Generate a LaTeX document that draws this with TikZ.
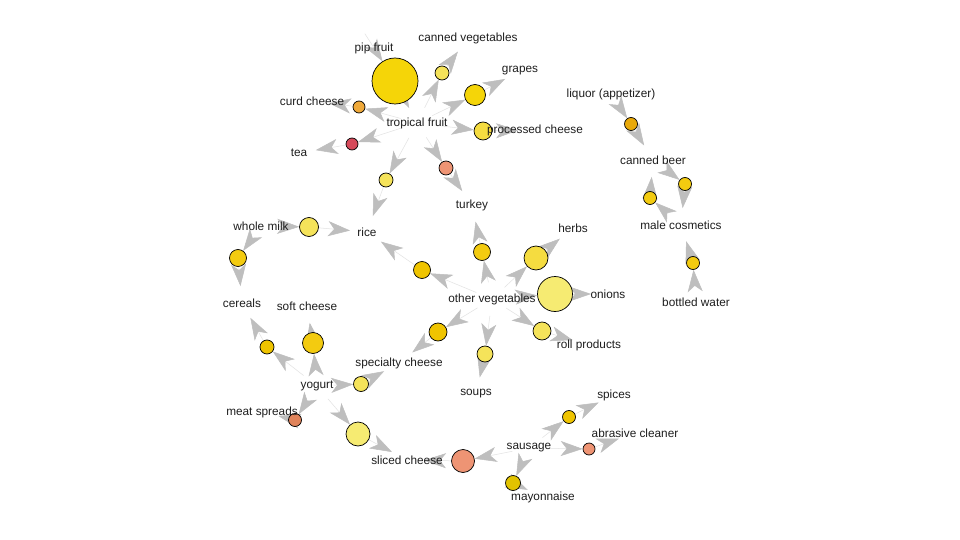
\documentclass[tikz,border=0pt]{standalone}
\usepackage{fontspec}
\setmainfont{Liberation Sans}
\usetikzlibrary{arrows.meta}
\pgfdeclarelayer{edges}
\pgfdeclarelayer{labels}
\pgfsetlayers{edges,main,labels}
\definecolor{edgec}{HTML}{E2E2E2}
\definecolor{tipc}{HTML}{BEBEBE}
\definecolor{labc}{HTML}{1E1E1E}
\definecolor{cGold}{HTML}{F5D508}
\definecolor{cGoldB}{HTML}{F3CB10}
\definecolor{cGoldC}{HTML}{EFC400}
\definecolor{cLight}{HTML}{F5E35A}
\definecolor{cLightB}{HTML}{F6EB72}
\definecolor{cMid}{HTML}{F5DC40}
\definecolor{cOrange}{HTML}{EFA93A}
\definecolor{cOrangeB}{HTML}{E9A90A}
\definecolor{cRed}{HTML}{D64A5A}
\definecolor{cSalmon}{HTML}{EE9474}
\definecolor{cBrown}{HTML}{E0835A}
\definecolor{cMayo}{HTML}{E2C300}
\begin{document}
\begin{tikzpicture}[x=1pt,y=-1pt,
  item/.style={font=\fontsize{11.8}{13}\selectfont, text=labc, inner sep=0pt},
  rule/.style={circle, draw=black, line width=0.7pt, inner sep=0pt, minimum size=2*#1pt},
  edge/.style={draw=edgec, line width=0.5pt,
    -{Stealth[length=22pt,width=15pt,inset=6pt,color=tipc]}},
  fromitem/.style={edge, shorten <=17pt},
  toitem/.style={edge, shorten >=17pt}]
\useasboundingbox (0,0) rectangle (960,540);

% ---------- item labels ----------
\begin{pgfonlayer}{labels}
\node[item] (pip) at (374,48) {pip fruit};
\node[item] (cveg) at (468,38) {canned vegetables};
\node[item] (grapes) at (520,71) {grapes};
\node[item] (curd) at (312,101) {curd cheese};
\node[item] (tf) at (417,123) {tropical fruit};
\node[item] (proc) at (535,130) {processed cheese};
\node[item] (tea) at (299,153) {tea};
\node[item] (turkey) at (472,205) {turkey};
\node[item] (liquor) at (611,94) {liquor (appetizer)};
\node[item] (cbeer) at (653,160) {canned beer};
\node[item] (male) at (681,225) {male cosmetics};
\node[item] (bottled) at (696,302) {bottled water};
\node[item] (wm) at (261,226) {whole milk};
\node[item] (rice) at (367,232) {rice};
\node[item] (herbs) at (573,228) {herbs};
\node[item] (ov) at (492,299) {other vegetables};
\node[item] (onions) at (608,294) {onions};
\node[item] (cereals) at (242,303) {cereals};
\node[item] (softc) at (307,306) {soft cheese};
\node[item] (roll) at (589,345) {roll products};
\node[item] (specc) at (399,363) {specialty cheese};
\node[item] (yog) at (317,386) {yogurt};
\node[item] (soups) at (476,394) {soups};
\node[item] (spices) at (614,395) {spices};
\node[item] (meat) at (262,412) {meat spreads};
\node[item] (abr) at (635,433) {abrasive cleaner};
\node[item] (saus) at (529,448) {sausage};
\node[item] (slc) at (407,460) {sliced cheese};
\node[item] (mayo) at (543,497) {mayonnaise};
\end{pgfonlayer}

% ---------- rule circles ----------
\node[rule=23, fill=cGold] (R1) at (395,81) {};
\node[rule=7, fill=cLight] (R2) at (442,73) {};
\node[rule=10.5, fill=cGold] (R3) at (475,95) {};
\node[rule=9, fill=cMid] (R4) at (483,131) {};
\node[rule=6, fill=cOrange] (R5) at (359,107) {};
\node[rule=6, fill=cRed] (R6) at (352,144) {};
\node[rule=7, fill=cSalmon] (R7) at (446,168) {};
\node[rule=7, fill=cLight] (R8) at (386,180) {};
\node[rule=6.5, fill=cOrangeB] (Ra) at (631,124) {};
\node[rule=6.5, fill=cGoldB] (Rb) at (685,184) {};
\node[rule=6.5, fill=cGoldB] (Rc) at (650,198) {};
\node[rule=6.5, fill=cGoldB] (Rd) at (693,263) {};
\node[rule=9.5, fill=cLight] (Rl) at (309,227) {};
\node[rule=8.5, fill=cGoldB] (Rm) at (238,258) {};
\node[rule=8.5, fill=cGoldC] (Re) at (422,270) {};
\node[rule=8.5, fill=cGoldB] (Rf) at (482,252) {};
\node[rule=12, fill=cMid] (Rg) at (536,258) {};
\node[rule=17.5, fill=cLightB] (Rh) at (555,294) {};
\node[rule=9, fill=cLight] (Ri) at (542,331) {};
\node[rule=8, fill=cLight] (Rj) at (485,354) {};
\node[rule=9, fill=cGoldC] (Rk) at (438,332) {};
\node[rule=7, fill=cGoldC] (Rn) at (267,347) {};
\node[rule=10.5, fill=cGoldB] (Ro) at (313,343) {};
\node[rule=7.5, fill=cLight] (Rp) at (361,384) {};
\node[rule=6.5, fill=cBrown] (Rq) at (295,420) {};
\node[rule=12, fill=cLightB] (Rr) at (358,434) {};
\node[rule=11.5, fill=cSalmon] (Rs) at (463,461) {};
\node[rule=6.5, fill=cGoldC] (Rt) at (569,417) {};
\node[rule=6, fill=cSalmon] (Ru) at (589,449) {};
\node[rule=7.5, fill=cMayo] (Rv) at (513,483) {};

% ---------- edges ----------
\begin{pgfonlayer}{edges}
\fill[white] (0,0) rectangle (960,540);
\draw[fromitem] (pip.center) -- (R1);   \draw[toitem] (R1) -- (tf.center);
\draw[fromitem] (tf.center) -- (R2);    \draw[toitem] (R2) -- (cveg.center);
\draw[fromitem] (tf.center) -- (R3);    \draw[toitem] (R3) -- (grapes.center);
\draw[fromitem] (tf.center) -- (R4);    \draw[toitem] (R4) -- (proc.center);
\draw[fromitem] (tf.center) -- (R5);    \draw[toitem] (R5) -- (curd.center);
\draw[fromitem] (tf.center) -- (R6);    \draw[toitem] (R6) -- (tea.center);
\draw[fromitem] (tf.center) -- (R7);    \draw[toitem] (R7) -- (turkey.center);
\draw[fromitem] (tf.center) -- (R8);    \draw[toitem] (R8) -- (rice.center);
\draw[fromitem] (liquor.center) -- (Ra); \draw[toitem] (Ra) -- (cbeer.center);
\draw[fromitem] (cbeer.center) -- (Rb); \draw[toitem] (Rb) -- (male.center);
\draw[fromitem] (male.center) -- (Rc);  \draw[toitem] (Rc) -- (cbeer.center);
\draw[fromitem] (bottled.center) -- (Rd); \draw[toitem] (Rd) -- (male.center);
\draw[fromitem] (wm.center) -- (Rl);    \draw[toitem] (Rl) -- (rice.center);
\draw[fromitem] (wm.center) -- (Rm);    \draw[toitem] (Rm) -- (cereals.center);
\draw[fromitem] (ov.center) -- (Re);    \draw[toitem] (Re) -- (rice.center);
\draw[fromitem] (ov.center) -- (Rf);    \draw[toitem] (Rf) -- (turkey.center);
\draw[fromitem] (ov.center) -- (Rg);    \draw[toitem] (Rg) -- (herbs.center);
\draw[fromitem] (ov.center) -- (Rh);    \draw[toitem] (Rh) -- (onions.center);
\draw[fromitem] (ov.center) -- (Ri);    \draw[toitem] (Ri) -- (roll.center);
\draw[fromitem] (ov.center) -- (Rj);    \draw[toitem] (Rj) -- (soups.center);
\draw[fromitem] (ov.center) -- (Rk);    \draw[toitem] (Rk) -- (specc.center);
\draw[fromitem] (yog.center) -- (Rn);   \draw[toitem] (Rn) -- (cereals.center);
\draw[fromitem] (yog.center) -- (Ro);   \draw[toitem] (Ro) -- (softc.center);
\draw[fromitem] (yog.center) -- (Rp);   \draw[toitem] (Rp) -- (specc.center);
\draw[fromitem] (yog.center) -- (Rq);   \draw[toitem] (Rq) -- (meat.center);
\draw[fromitem] (yog.center) -- (Rr);   \draw[toitem] (Rr) -- (slc.center);
\draw[fromitem] (saus.center) -- (Rs);  \draw[toitem] (Rs) -- (slc.center);
\draw[fromitem] (saus.center) -- (Rt);  \draw[toitem] (Rt) -- (spices.center);
\draw[fromitem] (saus.center) -- (Ru);  \draw[toitem] (Ru) -- (abr.center);
\draw[fromitem] (saus.center) -- (Rv);  \draw[toitem] (Rv) -- (mayo.center);
\end{pgfonlayer}
\end{tikzpicture}
\end{document}
